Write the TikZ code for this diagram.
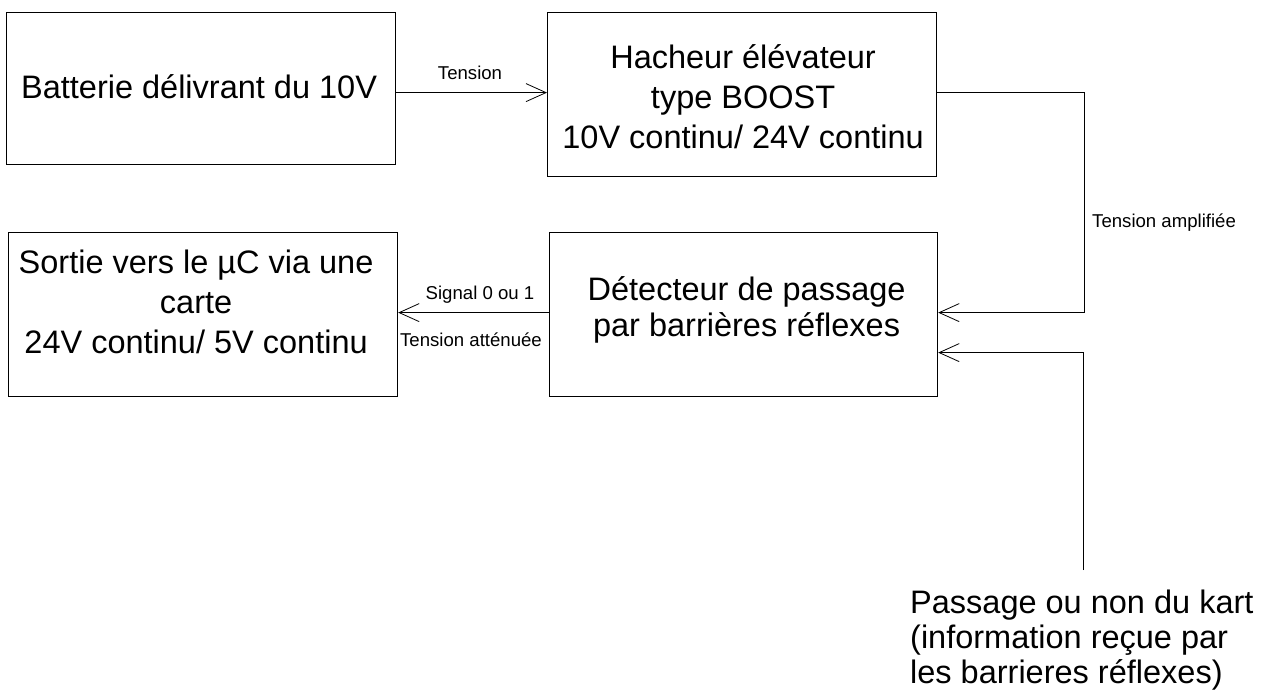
\documentclass[tikz,border=0pt]{standalone}
\usepackage{fontspec}
\setmainfont{Liberation Sans}
\usetikzlibrary{arrows.meta,calc}
\begin{document}
\begin{tikzpicture}[x=1pt,y=-1pt,
  box/.style={draw=black,line width=1.2pt,inner sep=0pt,anchor=north west,minimum width=389pt,minimum height=164pt},
  big/.style={font=\fontsize{32.5}{40}\selectfont,align=center,inner sep=0pt},
  small/.style={font=\fontsize{18.6}{21}\selectfont,inner sep=0pt},
  arr/.style={line width=1pt,-{Straight Barb[length=20pt,width=18pt,line width=0.8pt]}}
]
\useasboundingbox (0,0) rectangle (1269,689);
% boxes
\node[box,minimum height=152pt] (b1) at (6,12) {};
\node[box] (b2) at (547,12) {};
\node[box,minimum width=388pt] (b3) at (549,232) {};
\node[box] (b4) at (8,232) {};
% box texts
\node[big] (t1) at ($(b1.center)+(-2,-2)$) {Batterie délivrant du 10V};
\node[big] (t2) at ($(b2.center)+(1,2)$) {Hacheur élévateur\\type BOOST\\10V continu/ 24V continu};
\node[big,font=\fontsize{32.5}{36}\selectfont] (t3) at ($(b3.center)+(3,-5)$) {Détecteur de passage\\par barrières réflexes};
\node[big] (t4) at ($(b4.center)+(-7,-13)$) {Sortie vers le µC via une\\carte\\24V continu/ 5V continu};
% bottom text
\node[big,align=left,anchor=north west,font=\fontsize{32.5}{35}\selectfont] (t5) at (910,590) {Passage ou non du kart\\(information reçue par\\les barrieres réflexes)};
\coordinate (src) at (1083,570);
% connectors
\draw[arr] ([yshift=-4pt]b1.east) -- ([yshift=-4pt]b1.east -| b2.west);
\draw[arr] ([yshift=2pt]b2.east) -- ++(147,0) |- ([yshift=2pt]b3.east);
\draw[arr] (src) |- ([yshift=-38pt]b3.east);
\draw[arr] ([yshift=2pt]b3.west) -- ([yshift=2pt]b3.west -| b4.east);
% labels
\node[small] (l1) at (470,73) {Tension};
\node[small,anchor=west] (l2) at (1092,223) {Tension amplifiée};
\node[small] (l3) at (480,295) {Signal 0 ou 1};
\node[small] (l4) at (471,340) {Tension atténuée};
\end{tikzpicture}
\end{document}
